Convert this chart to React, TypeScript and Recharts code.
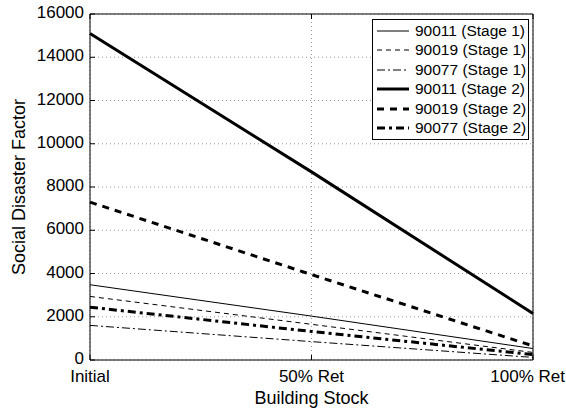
import { LineChart, Line, XAxis, YAxis, CartesianGrid } from "recharts";

const categories = ["Initial", "50% Ret", "100% Ret"];
const yTicks = [0, 2000, 4000, 6000, 8000, 10000, 12000, 14000, 16000];

const s1_90011 = [3480, 2030, 530];
const s1_90019 = [2940, 1650, 350];
const s1_90077 = [1600, 850, 120];
const s2_90011 = [15100, 8700, 2150];
const s2_90019 = [7300, 3950, 650];
const s2_90077 = [2440, 1320, 250];

const series = [
  { key: "s1_90011", name: "90011 (Stage 1)", values: s1_90011, width: 1, dash: undefined },
  { key: "s1_90019", name: "90019 (Stage 1)", values: s1_90019, width: 1, dash: "5 4" },
  { key: "s1_90077", name: "90077 (Stage 1)", values: s1_90077, width: 1, dash: "8 3 2 3" },
  { key: "s2_90011", name: "90011 (Stage 2)", values: s2_90011, width: 3, dash: undefined },
  { key: "s2_90019", name: "90019 (Stage 2)", values: s2_90019, width: 3, dash: "7 6" },
  { key: "s2_90077", name: "90077 (Stage 2)", values: s2_90077, width: 3, dash: "8 4 3 4" },
];

const data = categories.map((c, i) => {
  const row: Record<string, string | number> = { stage: c };
  series.forEach((s) => (row[s.key] = s.values[i]));
  return row;
});

const FONT = "'Liberation Sans', Arial, Helvetica, sans-serif";

function XTick({ x, y, payload, index }: any) {
  const last = index === categories.length - 1;
  return (
    <text
      x={last ? x + 32 : x}
      y={y + 22}
      textAnchor={last ? "end" : "middle"}
      fontSize={17}
      fill="#000"
      fontFamily={FONT}
    >
      {payload.value}
    </text>
  );
}

function YTick({ x, y, payload }: any) {
  return (
    <text x={x} y={y} dy={4} textAnchor="end" fontSize={17} fill="#000" fontFamily={FONT}>
      {payload.value}
    </text>
  );
}

export default function App() {
  return (
    <div style={{ position: "absolute", left: 0, top: 0, width: 566, height: 417, background: "#fff", fontFamily: FONT }}>
      <LineChart width={566} height={417} data={data} margin={{ top: 13, right: 32, left: 0, bottom: 0 }}>
        <CartesianGrid stroke="#999" strokeDasharray="1 3" xAxisId="bottom" yAxisId="left" />
        <XAxis
          xAxisId="bottom"
          dataKey="stage"
          height={57}
          stroke="#000"
          tickSize={-5}
          tickMargin={5}
          tick={<XTick />}
          interval={0}
          label={{ value: "Building Stock", position: "insideBottom", offset: 13, fontSize: 18, fill: "#000", fontFamily: FONT }}
        />
        <XAxis xAxisId="top" orientation="top" dataKey="stage" height={1} stroke="#000" tickSize={-5} tickFormatter={() => ""} interval={0} />
        <YAxis
          yAxisId="left"
          width={90}
          domain={[0, 16000]}
          ticks={yTicks}
          interval={0}
          stroke="#000"
          tickSize={-5}
          tickMargin={11}
          tick={<YTick />}
          label={{ value: "Social Disaster Factor", angle: -90, position: "insideLeft", offset: 19, fontSize: 18, fill: "#000", fontFamily: FONT, style: { textAnchor: "middle" } }}
        />
        <YAxis yAxisId="right" orientation="right" width={1} domain={[0, 16000]} ticks={yTicks} interval={0} stroke="#000" tickSize={-5} tickFormatter={() => ""} />
        {series.map((s) => (
          <Line
            key={s.key}
            xAxisId="bottom"
            yAxisId="left"
            dataKey={s.key}
            name={s.name}
            stroke="#000"
            strokeWidth={s.width}
            strokeDasharray={s.dash}
            dot={false}
            activeDot={false}
            isAnimationActive={false}
          />
        ))}
      </LineChart>
      <div
        style={{
          position: "absolute",
          left: 372,
          top: 19,
          width: 155,
          border: "1.5px solid #000",
          background: "#fff",
          padding: "1px 0",
        }}
      >
        {series.map((s) => (
          <div key={s.key} style={{ display: "flex", alignItems: "center", height: 19.5, fontSize: 15.5, color: "#000" }}>
            <svg width={36} height={10} style={{ marginLeft: 4, marginRight: 2 }}>
              <line x1={0} y1={5} x2={32} y2={5} stroke="#000" strokeWidth={s.width} strokeDasharray={s.dash} />
            </svg>
            <span style={{ whiteSpace: "nowrap" }}>{s.name}</span>
          </div>
        ))}
      </div>
    </div>
  );
}
